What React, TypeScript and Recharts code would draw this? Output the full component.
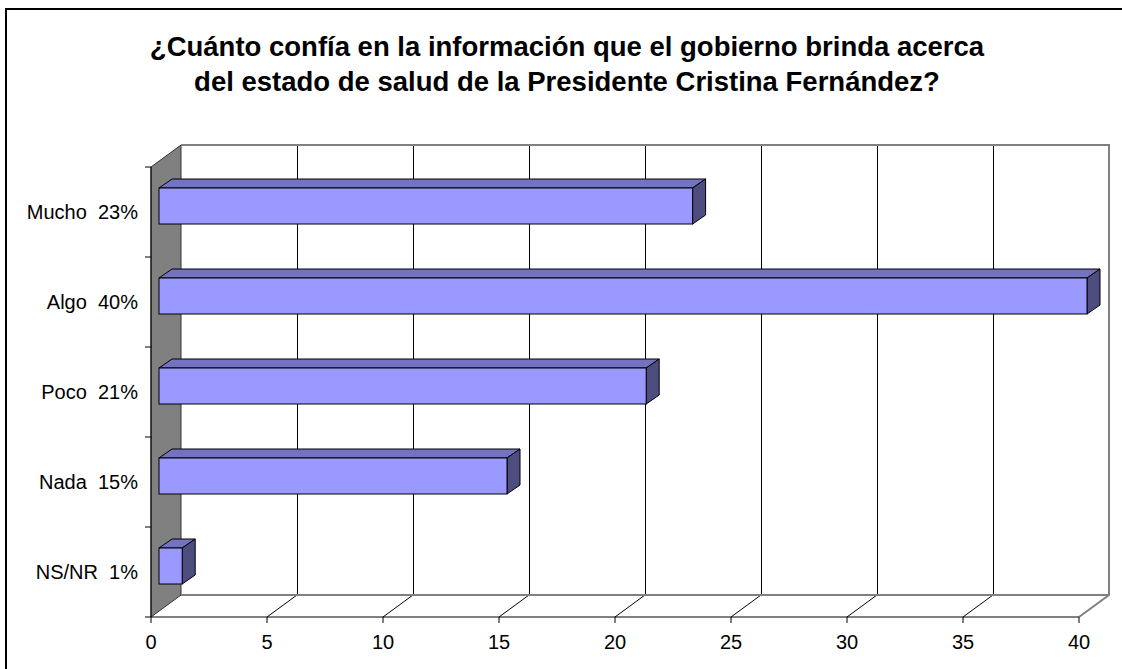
import React from 'react';
import {
  BarChart, Bar, XAxis, YAxis, CartesianGrid, ReferenceArea,
} from 'recharts';

const categories = ['Mucho  23%', 'Algo  40%', 'Poco  21%', 'Nada  15%', 'NS/NR  1%'];
const values = [23, 40, 21, 15, 1];
const xTicks = [0, 5, 10, 15, 20, 25, 30, 35, 40];
const titleLines = [
  '¿Cuánto confía en la información que el gobierno brinda acerca',
  'del estado de salud de la Presidente Cristina Fernández?',
];

const data = categories.map((name, i) => ({ name, value: values[i] }));

// 3D depth of the walls and of the bars
const DX = 30;
const DY = 22;
const BAR_OFF_X = 8;
const BAR_OFF_Y = 6;
const BAR_DX = 13;
const BAR_DY = 9;

const FONT = '"Liberation Sans", Arial, sans-serif';

function Bar3D(props: any) {
  const { x, y, width, height } = props;
  if (width == null || height == null) return null;
  const fx = x + BAR_OFF_X;
  const fy = y - BAR_OFF_Y;
  const w = width;
  const h = height;
  const top = `${fx},${fy} ${fx + BAR_DX},${fy - BAR_DY} ${fx + w + BAR_DX},${fy - BAR_DY} ${fx + w},${fy}`;
  const side = `${fx + w},${fy} ${fx + w + BAR_DX},${fy - BAR_DY} ${fx + w + BAR_DX},${fy + h - BAR_DY} ${fx + w},${fy + h}`;
  return (
    <g>
      <polygon points={top} fill="#7373BF" stroke="#000" strokeWidth={1} />
      <polygon points={side} fill="#4D4D80" stroke="#000" strokeWidth={1} />
      <rect x={fx} y={fy} width={w} height={h} fill="#9999FF" stroke="#000" strokeWidth={1} />
    </g>
  );
}

function Walls(props: any) {
  const { x, y, width, height } = props;
  const bottom = y + height;
  const side = `${x},${y} ${x + DX},${y - DY} ${x + DX},${bottom - DY} ${x},${bottom}`;
  return (
    <g>
      <polygon points={side} fill="#808080" stroke="#333" strokeWidth={1} />
      {/* back wall top + right edge */}
      <polyline
        points={`${x + DX},${y - DY} ${x + width + DX},${y - DY} ${x + width + DX},${bottom - DY} ${x + width},${bottom}`}
        fill="none" stroke="#808080" strokeWidth={2}
      />
      {/* floor back edge */}
      <line x1={x + DX} y1={bottom - DY} x2={x + width + DX} y2={bottom - DY} stroke="#808080" strokeWidth={2} />
    </g>
  );
}

function GridLine(props: any) {
  const { x1, y1, y2, index } = props;
  const last = index === xTicks.length - 1;
  if (index === 0 || last) {
    return <g key={`g-${index}`} />;
  }
  return (
    <g key={`g-${index}`}>
      <line x1={x1 + DX} y1={y1 - DY} x2={x1 + DX} y2={y2 - DY} stroke="#000" strokeWidth={1}
        shapeRendering="crispEdges" />
      <line x1={x1} y1={y2} x2={x1 + DX} y2={y2 - DY} stroke="#000" strokeWidth={1} />
    </g>
  );
}

function CategoryTick(props: any) {
  const { x, y, payload, index } = props;
  const half = payload && payload.offset ? payload.offset : 45;
  const axisX = x + 7;
  return (
    <g>
      <line x1={axisX - 6} y1={y - half} x2={axisX} y2={y - half} stroke="#000" />
      {index === categories.length - 1 && (
        <line x1={axisX - 6} y1={y + half} x2={axisX} y2={y + half} stroke="#000" />
      )}
      <text x={x - 6} y={y} dy={7} textAnchor="end" fontSize={20} fontFamily={FONT} fill="#000"
        style={{ whiteSpace: 'pre' }}>
        {payload.value}
      </text>
    </g>
  );
}

export default function App() {
  return (
    <div style={{ position: 'absolute', left: 0, top: 0, width: 1122, height: 669, overflow: 'hidden', background: '#fff' }}>
      <div style={{
        position: 'absolute', left: 5, top: 8, width: 1140, height: 700,
        border: '2px solid #000', boxSizing: 'border-box',
      }} />
      <div style={{
        position: 'absolute', left: 0, top: 29, width: 1134, textAlign: 'center',
        fontFamily: FONT, fontWeight: 'bold', fontSize: 27.5, lineHeight: '35px', color: '#000',
      }}>
        {titleLines.map((l) => <div key={l}>{l}</div>)}
      </div>
      <div style={{ position: 'absolute', left: 0, top: 0 }}>
        <BarChart
          width={1122}
          height={669}
          data={data}
          layout="vertical"
          barSize={36}
          margin={{ top: 167, right: 43, left: 0, bottom: 0 }}
        >
          <ReferenceArea x1={0} x2={40} shape={<Walls />} ifOverflow="visible" />
          <CartesianGrid horizontal={false} vertical={GridLine as any} stroke="#000" />
          <XAxis
            type="number"
            domain={[0, 40]}
            ticks={xTicks}
            interval={0}
            height={52}
            tickSize={6}
            tickMargin={12}
            axisLine={{ stroke: '#000' }}
            tickLine={{ stroke: '#000' }}
            tick={{ fontSize: 20, fontFamily: FONT, fill: '#000' }}
          />
          <YAxis
            type="category"
            dataKey="name"
            width={151}
            tickLine={false}
            axisLine={{ stroke: '#000' }}
            tick={<CategoryTick />}
            tickSize={0}
            tickMargin={7}
          />
          <Bar dataKey="value" shape={<Bar3D />} isAnimationActive={false} />
        </BarChart>
      </div>
    </div>
  );
}
